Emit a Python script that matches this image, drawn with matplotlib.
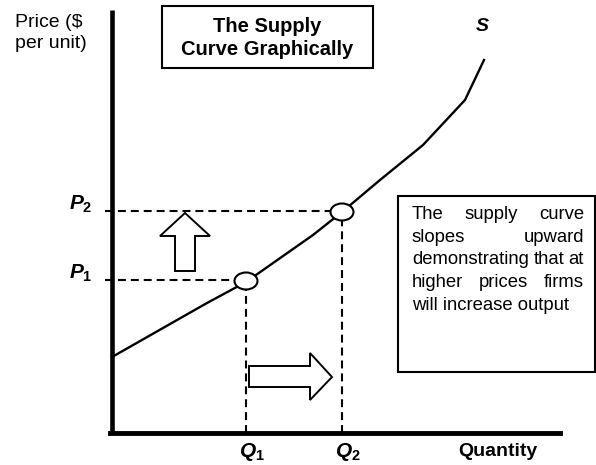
import matplotlib.pyplot as plt
from matplotlib.patches import Ellipse, Polygon, Rectangle
import numpy as np

plt.rcParams['font.family'] = ['Liberation Sans', 'DejaVu Sans']
plt.rcParams['mathtext.fontset'] = 'custom'
plt.rcParams['mathtext.it'] = 'Liberation Sans:italic:bold'
plt.rcParams['mathtext.rm'] = 'Liberation Sans:bold'

# supply curve (quantity, price) in chart units (1 unit = 1 px)
supply_q = [0, 95, 134, 201, 230, 268, 311, 353, 372]
supply_p = [76, 130, 151, 198, 221, 253, 288, 333, 373]
q_points = [134, 230]
p_points = [153, 222]
q_labels = [r'$\mathit{Q_1}$', r'$\mathit{Q_2}$']
p_labels = [r'$\mathit{P_1}$', r'$\mathit{P_2}$']

title_lines = ['The Supply', 'Curve Graphically']
price_lines = ['Price ($', 'per unit)']
note_lines = ['The supply curve', 'slopes upward', 'demonstrating that at',
              'higher prices firms', 'will increase output']

# hollow arrows
up_arrow = [(63, 162), (83, 162), (83, 197), (98, 197), (73, 220), (48, 197), (63, 197)]
right_arrow = [(137, 46), (198, 46), (198, 33), (220, 56), (198, 80), (198, 67), (137, 67)]

fig = plt.figure(figsize=(5.96, 4.65), dpi=100)
ax = fig.add_axes([0, 0, 1, 1])
ax.set_xlim(-112, 484)
ax.set_ylim(-32, 433)
ax.set_xticks([])
ax.set_yticks([])
for s in ['top', 'right']:
    ax.spines[s].set_visible(False)
ax.spines['left'].set_position(('data', 0))
ax.spines['bottom'].set_position(('data', 0))
ax.spines['left'].set_bounds(0, 423)
ax.spines['bottom'].set_bounds(-2, 448)
ax.spines['left'].set_linewidth(3.3)
ax.spines['bottom'].set_linewidth(3.5)
ax.spines['left'].set_capstyle('butt')

ax.plot(supply_q, supply_p, color='black', lw=1.7, zorder=3)

dash = (0, (3.8, 2.4))
for q, p in zip(q_points, p_points):
    ax.plot([-7, q], [p, p], color='black', lw=1.5, ls=dash, zorder=2)
    ax.plot([q, q], [0, p], color='black', lw=1.5, ls=dash, zorder=2)
    ax.add_patch(Ellipse((q, p - 1), 23, 17, facecolor='white', edgecolor='black', lw=1.5, zorder=4))

for poly in [up_arrow, right_arrow]:
    ax.add_patch(Polygon(poly, closed=True, facecolor='white', edgecolor='black', lw=1.4, zorder=3))

for q, lab in zip(q_points, q_labels):
    ax.text(q + 6, -24, lab, fontsize=15, ha='center', va='baseline')
for p, lab in zip(p_points, p_labels):
    ax.text(-31, p + 1, lab, fontsize=15, ha='center', va='baseline')

ax.text(386, -23, 'Quantity', fontsize=14, fontweight='bold', ha='center', va='baseline')
ax.text(370, 406, 'S', fontsize=14, fontweight='bold', style='italic', ha='center', va='center')
for i, line in enumerate(price_lines):
    ax.text(-97, 406 - i * 21, line, fontsize=14, ha='left', va='baseline')

# title box
ax.add_patch(Rectangle((50, 365), 211, 62, facecolor='white', edgecolor='black', lw=1.5, clip_on=False))
for i, line in enumerate(title_lines):
    ax.text(155.5, 401 - i * 23, line, fontsize=14.5, fontweight='bold', ha='center', va='baseline')

# note box with justified text
ax.add_patch(Rectangle((286, 61), 197, 176, facecolor='white', edgecolor='black', lw=1.5, clip_on=False, zorder=1))
left, right = 300, 472
renderer = fig.canvas.get_renderer()
for i, line in enumerate(note_lines):
    y = 214 - i * 22.75
    words = line.split()
    if i == len(note_lines) - 1:
        ax.text(left, y, line, fontsize=13.3, ha='left', va='baseline', zorder=5)
        continue
    texts = [ax.text(0, y, w, fontsize=13.3, ha='left', va='baseline', zorder=5) for w in words]
    widths = [t.get_window_extent(renderer).width for t in texts]
    gap = (right - left - sum(widths)) / (len(words) - 1)
    x = left
    for t, w in zip(texts, widths):
        t.set_x(x)
        x += w + gap

fig.savefig('out.png', dpi=100)
